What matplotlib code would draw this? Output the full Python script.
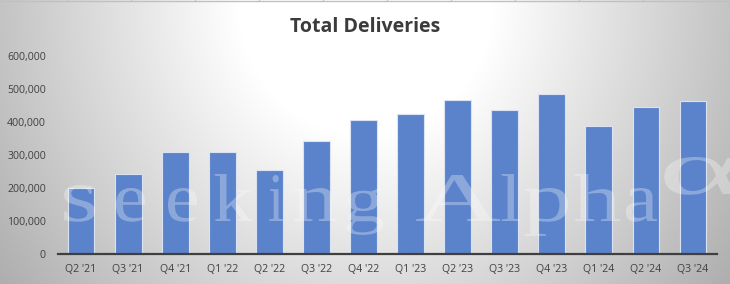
import numpy as np
import matplotlib
matplotlib.use("Agg")
import matplotlib.pyplot as plt
from matplotlib.ticker import FuncFormatter, MultipleLocator
from matplotlib.textpath import TextPath
from matplotlib.font_manager import FontProperties
from matplotlib.patches import PathPatch
from matplotlib.path import Path

# ---- data ----
quarters = ["Q2 '21", "Q3 '21", "Q4 '21", "Q1 '22", "Q2 '22", "Q3 '22", "Q4 '22",
            "Q1 '23", "Q2 '23", "Q3 '23", "Q4 '23", "Q1 '24", "Q2 '24", "Q3 '24"]
deliveries = [201250, 241300, 308600, 310048, 254695, 343830, 405278,
              422875, 466140, 435059, 484507, 386810, 443956, 462890]
title = "Total Deliveries"
watermark_letters = ["s", "e", "e", "k", "i", "n", "g", "A", "l", "p", "h", "a", "\u03b1"]

W, H = 730, 284
fig = plt.figure(figsize=(W / 100, H / 100), dpi=100)

# ---- background radial gradient ----
bg = fig.add_axes([0, 0, 1, 1], zorder=-10)
yy, xx = np.mgrid[0:H, 0:W]
t = np.sqrt(((xx - 365) / 365.0) ** 2 + (yy / 386.0) ** 2)
val = 255 - 91 * np.clip(t - 0.35, 0, None)
val = np.clip(val, 0, 255) / 255.0
img = np.dstack([val, val, val])
bg.imshow(img, extent=[0, W, H, 0], aspect="auto", interpolation="bilinear")
bg.set_xlim(0, W)
bg.set_ylim(H, 0)
bg.axis("off")
bg.plot([0, W], [1.2, 1.2], color="#c0c0c0", lw=1.0)
for xt in range(67, W, 64):
    bg.plot([xt, xt], [0, 1.2], color="#c0c0c0", lw=0.8)

# ---- main axes ----
left = 57.5 / W
right = 716.6 / W
bottom = (H - 254) / H
top = (H - 56) / H
ax = fig.add_axes([left, bottom, right - left, top - bottom])
ax.set_facecolor("none")

x = np.arange(len(quarters))
ax.bar(x, deliveries, width=0.57, color="#5b83cc", edgecolor="#dbe3f2",
       linewidth=0.8, zorder=2)
ax.set_xlim(-0.5, len(quarters) - 0.5)
ax.set_ylim(0, 600000)
ax.yaxis.set_major_locator(MultipleLocator(100000))
ax.yaxis.set_major_formatter(FuncFormatter(lambda v, p: f"{int(v):,}"))
ax.set_xticks(x)
ax.set_xticklabels(quarters)

for s in ["top", "right", "left"]:
    ax.spines[s].set_visible(False)
ax.spines["bottom"].set_color("#3f3f3f")
ax.spines["bottom"].set_linewidth(1.6)
ax.spines["bottom"].set_zorder(4)

ax.tick_params(axis="y", length=0, pad=8.3)
ax.tick_params(axis="x", length=0, pad=7.0)
for lab in ax.get_xticklabels() + ax.get_yticklabels():
    lab.set_fontfamily(["Open Sans", "DejaVu Sans"])
    lab.set_fontsize(7.6)
    lab.set_color("#404040")

# ---- title ----
fig.text(365 / W, 1 - 27 / H, title, ha="center", va="center",
         fontsize=14, fontweight="bold", color="#3b3b3b",
         family=["Open Sans", "DejaVu Sans"])

# ---- watermark (stretched serif glyphs, pixel boxes) ----
ov = fig.add_axes([0, 0, 1, 1], zorder=10)
ov.set_xlim(0, W)
ov.set_ylim(H, 0)
ov.axis("off")
ov.patch.set_alpha(0)
# (x0, x1, top_y, baseline_y) in pixels for each glyph
boxes = [(60, 95, 185, 221), (113, 145, 188, 221), (165, 197, 188, 221),
         (213, 253, 174, 221), (268, 283, 175, 221), (292, 337, 188, 221),
         (343, 383, 188, 221), (415, 500, 175, 221), (500, 520, 174, 221),
         (523, 568, 188, 221), (573, 620, 174, 221), (623, 657, 188, 221),
         (658, 740, 157, 194)]
fp = FontProperties(family=["Liberation Serif", "DejaVu Serif"])
for ch, (x0, x1, ty, by) in zip(watermark_letters, boxes):
    tp = TextPath((0, 0), ch, size=100, prop=fp)
    v = tp.vertices.copy()
    gx0, gx1 = v[:, 0].min(), v[:, 0].max()
    gtop = v[:, 1].max()
    sx = (x1 - x0) / (gx1 - gx0)
    sy = (by - ty) / gtop
    nv = np.column_stack([x0 + (v[:, 0] - gx0) * sx, by - v[:, 1] * sy])
    ov.add_patch(PathPatch(Path(nv, tp.codes), facecolor="white",
                           edgecolor="none", alpha=0.3))

fig.savefig("out.png", dpi=100)
